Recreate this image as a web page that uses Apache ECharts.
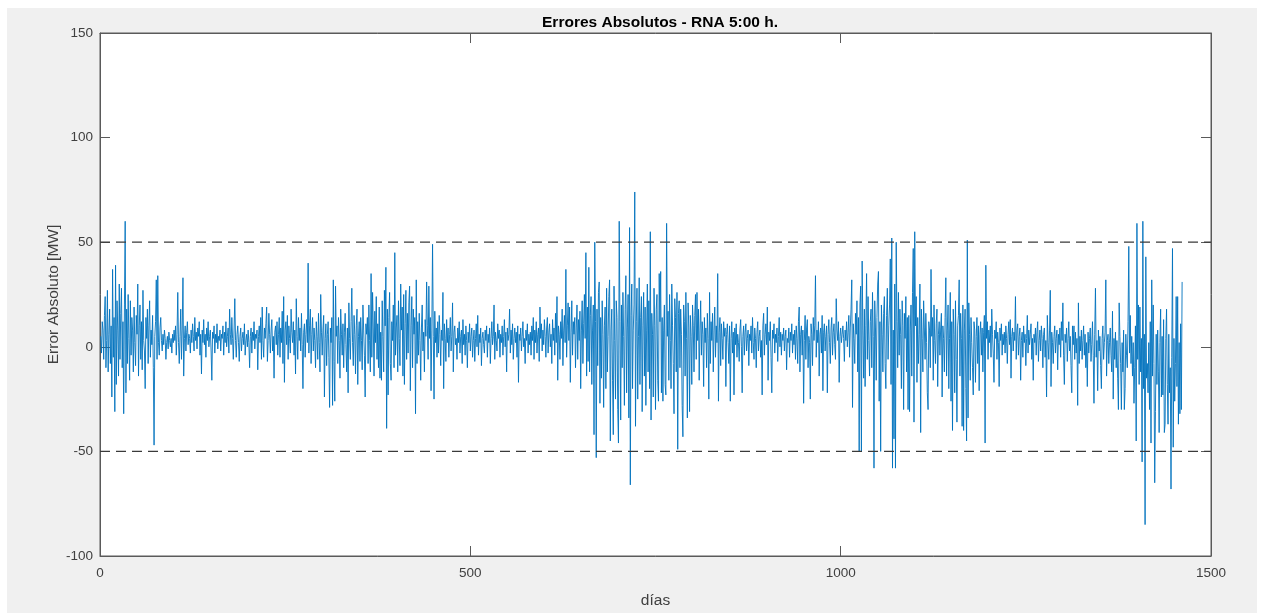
<!DOCTYPE html>
<html>
<head>
<meta charset="utf-8">
<script src="https://cdn.jsdelivr.net/npm/echarts@6/dist/echarts.min.js"></script>
<style>
html,body{margin:0;padding:0;background:#fff;width:1262px;height:614px;overflow:hidden;}
#fig{position:absolute;left:7px;top:8px;width:1250px;height:605px;background:#f0f0f0;}
#chart{position:absolute;left:0;top:0;width:1262px;height:614px;}
</style>
</head>
<body>
<div id="fig"></div>
<div id="chart"></div>
<script>
const titleText = 'Errores Absolutos - RNA 5:00 h.';
const xName = 'días';
const yName = 'Error Absoluto [MW]';
const xTicks = [0, 500, 1000, 1500];
const yTicks = [-100, -50, 0, 50, 100, 150];
const thresholds = [50, -50];
const firstDay = 1;
// Absolute error per day (MW)
const errors = [
5,-3,12,8,-6,15,24,-10,3,27,-12,6,18,-8,10,-24,37,-5,14,-31,
39,-18,22,8,-14,30,-6,16,28,-10,12,-32,20,60,-22,18,-8,25,4,-16,
22,-4,14,8,-12,19,2,-9,15,6,30,-14,10,20,-6,12,-11,27,3,-2,
-20,14,4,18,-8,10,22,-5,8,1,15,-10,-47,5,12,32,-6,34,2,-4,
9,14,3,-2,6,1,8,4,-6,2,5,-1,7,3,0,4,-3,6,2,8,
3,10,-4,6,26,2,-8,5,18,-6,8,33,-14,4,10,-2,7,12,1,6,
4,-3,8,2,11,5,-2,14,3,7,-1,9,5,12,-4,6,-13,8,2,13,
1,6,-5,9,3,12,0,5,8,-2,-16,7,4,10,-3,6,2,11,-1,5,
3,8,-2,6,4,10,-4,7,2,12,0,5,9,-3,18,6,1,14,4,-6,
8,23,3,-5,6,10,2,-7,5,9,-2,4,7,1,11,-4,3,6,0,8,
2,-10,5,9,-3,7,3,12,-1,6,4,8,-11,5,10,2,14,-6,19,3,
-5,9,4,11,19,-7,3,16,6,-3,8,13,-2,5,-15,7,10,1,12,-4,
6,14,-5,9,2,17,-8,24,-17,8,12,1,15,-6,10,4,-3,18,7,2,
12,-4,8,-13,23,5,-6,14,3,9,-2,16,1,-20,7,11,-5,6,13,2,
40,-3,10,18,-8,6,14,-2,9,3,-10,12,5,-6,16,2,-12,25,7,-4,
8,15,-24,4,11,-9,6,12,-5,-29,9,2,14,-28,32,-7,-26,29,5,10,
-8,14,3,-15,18,6,-4,11,-10,7,16,1,-12,9,-22,21,4,-6,12,28,
2,-9,15,6,-13,10,18,-18,5,12,-7,14,3,-11,20,8,-4,-24,11,6,
14,-8,20,3,-12,35,-5,26,9,-14,17,2,24,-6,11,-10,19,-15,7,-16,
22,5,-12,27,10,38,-39,18,-23,14,26,-8,-16,12,3,20,-10,45,-4,9,
15,-12,22,4,-9,30,8,19,-14,25,-18,11,27,-6,16,-3,21,29,-21,10,
24,-10,18,6,14,-32,32,-8,12,-4,16,3,-16,9,20,-2,7,-12,13,5,
31,10,-6,29,4,14,-21,8,49,5,-25,17,2,9,-5,12,-3,15,6,-9,
8,3,26,-20,11,4,-7,13,2,9,-5,6,14,-2,5,21,-12,7,10,1,
4,-6,9,2,12,-3,5,8,-8,13,1,6,-4,10,3,-10,7,2,11,-2,
5,9,-5,3,8,-7,4,11,0,15,-4,6,2,9,-9,4,7,1,-3,8,
3,10,-5,6,2,9,-8,4,12,1,5,20,-6,7,3,-2,11,4,8,-5,
6,2,10,-4,5,13,0,7,-12,9,3,6,18,-3,8,1,11,-6,4,9,
2,7,-5,10,-17,6,3,9,-2,5,12,0,4,-8,8,3,11,-3,6,1,
7,-4,10,3,14,-6,8,2,12,-3,6,9,-7,19,4,11,-2,8,1,13,
5,-5,9,14,-3,7,11,0,6,-8,13,3,9,-4,16,2,24,-16,10,6,
-6,12,4,18,-9,8,15,2,37,-5,10,21,3,19,-17,7,22,-4,12,6,
14,-10,9,20,-6,13,3,17,-20,8,22,-8,11,25,4,45,-14,19,-7,38,
-12,15,24,-18,8,20,-42,50,12,-53,18,-9,26,31,-27,14,-15,22,6,-29,
10,19,-20,28,-12,5,24,32,-45,8,18,-16,-42,29,3,-25,22,14,-30,-46,
60,12,-35,20,-10,26,5,-28,18,34,-22,9,25,-34,57,-66,15,30,-20,8,
20,74,-38,12,28,-25,5,33,-18,14,24,-31,10,26,-14,19,-28,8,30,-12,
22,-20,55,-35,16,6,-24,28,10,-30,18,25,-16,-26,35,12,36,-22,14,-26,
8,20,-18,-23,59,5,17,-16,25,3,-20,30,10,-8,-32,23,14,-12,26,-49,
16,22,-10,18,6,-28,-43,20,12,-14,26,4,-34,21,9,-31,15,5,-18,20,
10,-12,15,25,-6,26,3,18,-16,8,22,-4,12,6,-19,14,2,9,-10,16,
4,-25,26,-8,12,3,16,-12,8,19,-5,10,2,35,-26,7,14,-9,11,4,
-6,12,5,9,-19,6,11,2,-8,10,-26,4,12,-3,7,-23,9,1,11,-5,
6,2,-7,8,13,0,-22,5,10,-4,7,11,-2,4,8,-9,6,3,10,-3,
14,2,-6,9,4,-10,7,12,-2,5,8,-5,3,-23,10,16,-4,6,11,1,
19,-16,7,3,12,-5,-22,8,4,11,-3,6,2,9,-7,5,14,0,7,-4,
6,3,9,-2,5,8,-11,4,2,9,-5,7,3,11,-3,6,1,8,-6,10,
4,-8,12,19,-12,6,10,-4,8,-27,3,15,-6,9,13,-10,5,2,-25,11,
6,-9,14,3,10,34,-5,8,2,12,-14,6,9,-3,15,-21,7,11,-2,5,
10,-22,6,13,2,-8,9,14,-4,7,11,1,-6,23,8,3,12,-17,5,9,
2,6,10,4,-7,8,3,12,0,7,15,-5,9,18,32,-29,11,4,-8,16,
6,22,-12,14,-50,20,29,-50,41,8,-15,18,-19,10,35,-6,24,3,-14,12,
18,-10,26,5,-58,22,9,-16,14,30,36,-26,12,-50,20,6,-12,16,24,-8,
-20,15,28,-6,10,20,42,-18,52,-58,8,-44,30,-58,50,12,-10,26,-4,18,
6,-20,22,10,-30,16,4,24,-12,14,-30,15,-31,8,20,-14,26,47,-36,55,
10,24,-17,14,-8,6,30,-41,18,4,-12,22,9,-6,16,2,-22,-30,12,8,
-10,37,5,14,-16,20,3,-8,11,18,-19,6,12,-4,9,16,-24,10,4,-12,
14,33,-14,8,20,-20,4,26,-26,12,-40,18,6,-22,22,-6,-36,10,15,32,
-14,16,4,-38,20,-40,8,18,-20,-45,51,-34,21,6,-16,14,2,-10,-23,12,
8,-17,5,14,-8,10,-21,6,12,-4,9,-12,7,15,-46,39,4,12,-6,8,
2,10,-5,18,6,-3,-17,8,4,12,-6,7,2,-19,9,3,11,-4,6,1,
7,-3,10,4,-8,6,12,1,13,-15,5,9,-2,7,3,24,-6,8,11,-4,
5,9,-16,3,7,-5,10,2,6,-9,4,15,-3,8,1,6,11,-6,4,-16,
6,2,9,-4,7,12,-7,3,8,-2,10,4,-10,6,9,-5,3,-24,15,2,
-6,8,27,-19,7,2,-8,5,10,-3,4,8,-11,6,1,9,-5,12,3,21,
-4,-18,6,2,9,-7,4,12,-2,5,-9,-22,10,1,10,-6,7,-3,4,-28,
21,-8,5,-2,8,-6,3,10,-4,6,-10,2,-19,7,-3,4,9,-7,1,12,
-4,-27,6,28,-5,3,-21,8,-2,5,-9,-20,4,10,-6,2,7,32,-14,3,
6,-8,2,9,-4,-12,17,-25,4,-6,7,-10,3,-15,-30,21,5,-8,-30,2,
-12,8,-30,-20,6,-4,-10,12,48,-3,15,-8,5,-14,2,-27,-10,10,-45,59,
-6,20,-18,19,-12,4,-55,60,-20,6,-85,43,-15,-8,-22,2,-30,12,-46,32,
-14,20,-8,-65,-31,6,-18,8,-12,-41,2,18,-24,5,-23,13,-41,-37,4,18,
-18,-37,6,-22,-10,-68,-5,47,-48,4,-26,-8,24,-19,24,-37,2,-32,11,-30,
31
];

const chart = echarts.init(document.getElementById('chart'), null, {renderer: 'canvas'});
const seriesData = errors.map((v, i) => [firstDay + i, v]);
const font = 'Liberation Sans, Arial, Helvetica, sans-serif';
const axisColor = '#5a5a5a';
const labelColor = '#404040';
const plain = v => String(v);

const threshSeries = thresholds.map(t => ({
  type: 'line',
  data: [[xTicks[0], t], [xTicks[xTicks.length - 1], t]],
  symbol: 'none',
  silent: true,
  z: 3,
  lineStyle: {color: '#3a3a3a', width: 1.2, type: [10, 6]}
}));

const baseAxis = {
  type: 'value',
  axisLine: {show: true, onZero: false, lineStyle: {color: axisColor}},
  axisTick: {show: true, inside: true, length: 10, lineStyle: {color: axisColor}},
  splitLine: {show: false}
};

chart.setOption({
  animation: false,
  backgroundColor: 'transparent',
  title: {
    text: titleText,
    left: 655, top: 10, textAlign: 'center',
    textStyle: {fontFamily: font, fontSize: 15.5, fontWeight: 'bold', color: '#000'}
  },
  grid: {left: 100, right: 51, top: 33, bottom: 57, show: true, backgroundColor: '#ffffff', borderColor: axisColor, borderWidth: 1},
  xAxis: [Object.assign({}, baseAxis, {
    position: 'bottom', min: xTicks[0], max: xTicks[xTicks.length - 1], interval: 500,
    name: xName, nameLocation: 'middle', nameGap: 37, nameMoveOverlap: false,
    nameTextStyle: {fontFamily: font, fontSize: 15.5, color: labelColor},
    axisLabel: {fontFamily: font, fontSize: 13.5, color: labelColor, margin: 10, formatter: plain}
  }), Object.assign({}, baseAxis, {
    position: 'top', min: xTicks[0], max: xTicks[xTicks.length - 1], interval: 500,
    axisLabel: {show: false}
  })],
  yAxis: [Object.assign({}, baseAxis, {
    position: 'left', min: yTicks[0], max: yTicks[yTicks.length - 1], interval: 50,
    name: yName, nameLocation: 'middle', nameGap: 38, nameRotate: 90, nameMoveOverlap: false,
    nameTextStyle: {fontFamily: font, fontSize: 15.5, color: labelColor},
    axisLabel: {fontFamily: font, fontSize: 13.5, color: labelColor, margin: 7, formatter: plain}
  }), Object.assign({}, baseAxis, {
    position: 'right', min: yTicks[0], max: yTicks[yTicks.length - 1], interval: 50,
    axisLabel: {show: false}
  })],
  series: [{
    type: 'line',
    data: seriesData,
    symbol: 'none',
    z: 2,
    lineStyle: {color: '#0072BD', width: 0.9},
    itemStyle: {color: '#0072BD'}
  }].concat(threshSeries)
});
</script>
</body>
</html>
